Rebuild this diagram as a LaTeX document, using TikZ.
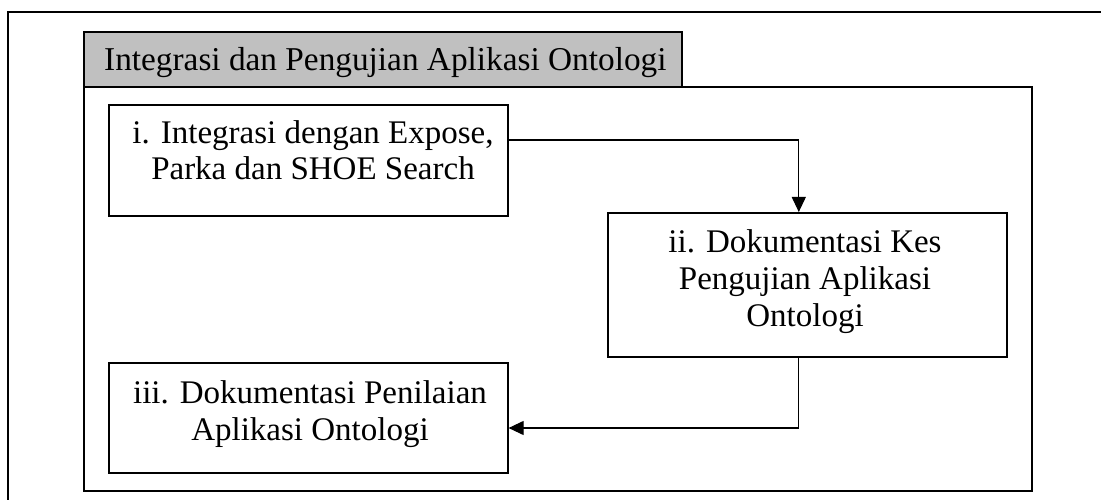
\documentclass[tikz,border=0pt]{standalone}
\usepackage{fontspec}
\setmainfont{Liberation Serif}
\usetikzlibrary{arrows.meta}
\definecolor{titlegray}{HTML}{C0C0C0}
\begin{document}
\begin{tikzpicture}[x=1pt,y=-1pt,
  frame/.style={draw=black,line width=1.6pt},
  stepbox/.style={draw=black,line width=1.6pt,anchor=north west,inner sep=0pt},
  label/.style={font=\fontsize{33}{36.8}\selectfont,align=center,inner sep=0pt,anchor=base},
  arr/.style={draw=black,line width=1.1pt,-{Triangle[length=15pt,width=14pt]}}]
  \useasboundingbox (0,0) rectangle (1101,500);
  % outer page frame (continues past right and bottom edges)
  \draw[frame] (1101,12) -- (8,12) -- (8,500);
  % title tab and content frame
  \node[stepbox,fill=titlegray,minimum width=598pt,minimum height=55pt] (tab) at (83,31) {};
  \node[font=\fontsize{33.3}{36.5}\selectfont,inner sep=0pt,anchor=base west] (title) at (104,71) {Integrasi dan Pengujian Aplikasi Ontologi};
  \node[stepbox,minimum width=948pt,minimum height=404pt] (panel) at (83,86) {};
  % process boxes
  \node[stepbox,minimum width=399pt,minimum height=111pt] (i) at (108,104) {};
  \node[stepbox,minimum width=399pt,minimum height=144pt] (ii) at (607,212) {};
  \node[stepbox,minimum width=399pt,minimum height=110pt] (iii) at (108,362) {};
  % captions, placed by the baseline of their last line
  \node[label] (ti) at (313,180) {i. Integrasi dengan Expose,\\Parka dan SHOE Search};
  \node[label] (tii) at (805,326) {ii. Dokumentasi Kes\\Pengujian Aplikasi\\Ontologi};
  \node[label] (tiii) at (310,440) {iii. Dokumentasi Penilaian\\Aplikasi Ontologi};
  % connectors
  \draw[arr] ([yshift=-36pt]i.north east) -| ([xshift=-8.5pt]ii.north);
  \draw[arr] ([xshift=-8.5pt]ii.south) |- ([yshift=-66pt]iii.north east);
\end{tikzpicture}
\end{document}
